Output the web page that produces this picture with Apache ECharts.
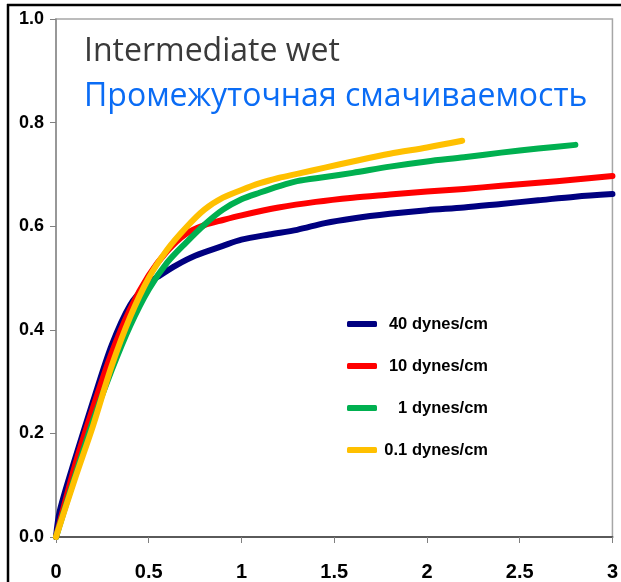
<!DOCTYPE html>
<html>
<head>
<meta charset="utf-8">
<script src="https://cdn.jsdelivr.net/npm/echarts@6/dist/echarts.min.js"></script>
<style>
  html, body { margin: 0; padding: 0; background: #fff; }
  #chart { width: 621px; height: 582px; }
</style>
</head>
<body>
<div id="chart"></div>
<script>
// Tick values for the two axes
const xTicks = [0, 0.5, 1, 1.5, 2, 2.5, 3];
const yTicks = [0, 0.2, 0.4, 0.6, 0.8, 1.0];

// Curve names (interfacial tension)
const seriesNames = ['40 dynes/cm', '10 dynes/cm', '1 dynes/cm', '0.1 dynes/cm'];
const seriesColors = ['#000080', '#ff0000', '#00b050', '#ffc000'];

// [x, y] points for each curve
const ift40 = [
  [0, 0], [0.02, 0.05], [0.1, 0.148], [0.2, 0.262], [0.3, 0.37], [0.4, 0.448],
  [0.5, 0.49], [0.56, 0.505], [0.65, 0.525], [0.75, 0.543], [0.9, 0.562],
  [1.0, 0.574], [1.15, 0.584], [1.3, 0.593], [1.45, 0.606], [1.6, 0.615],
  [1.8, 0.624], [2.0, 0.631], [2.2, 0.636], [2.4, 0.643], [2.6, 0.65],
  [2.8, 0.657], [3.0, 0.662]
];
const ift10 = [
  [0, 0], [0.1, 0.135], [0.2, 0.25], [0.3, 0.355], [0.4, 0.44], [0.5, 0.505],
  [0.6, 0.552], [0.7, 0.585], [0.8, 0.602], [0.9, 0.612], [1.0, 0.621],
  [1.2, 0.636], [1.4, 0.647], [1.6, 0.655], [1.8, 0.661], [2.0, 0.667],
  [2.2, 0.672], [2.4, 0.678], [2.6, 0.684], [2.8, 0.69], [3.0, 0.697]
];
const ift1 = [
  [0, 0], [0.1, 0.115], [0.2, 0.225], [0.3, 0.322], [0.4, 0.408], [0.5, 0.478],
  [0.6, 0.53], [0.7, 0.568], [0.8, 0.603], [0.9, 0.632], [1.0, 0.652],
  [1.1, 0.665], [1.2, 0.677], [1.3, 0.687], [1.45, 0.695], [1.6, 0.703],
  [1.8, 0.715], [2.0, 0.725], [2.2, 0.733], [2.4, 0.742], [2.6, 0.75],
  [2.8, 0.757]
];
const ift01 = [
  [0, 0], [0.1, 0.11], [0.2, 0.215], [0.3, 0.33], [0.4, 0.425], [0.5, 0.5],
  [0.6, 0.555], [0.7, 0.597], [0.8, 0.632], [0.9, 0.655], [1.0, 0.67],
  [1.1, 0.683], [1.2, 0.693], [1.3, 0.701], [1.45, 0.713], [1.6, 0.725],
  [1.8, 0.74], [2.0, 0.752], [2.19, 0.765]
];
const seriesData = [ift40, ift10, ift1, ift01];

// Caption lines
const captionLines = ['Intermediate wet', 'Промежуточная смачиваемость'];

const chart = echarts.init(document.getElementById('chart'), null, { renderer: 'canvas' });

const labelFont = "'Liberation Sans', Arial, sans-serif";
const captionFont = "32px 'Open Sans', 'Noto Sans', sans-serif";

const option = {
  animation: false,
  backgroundColor: '#ffffff',
  grid: {
    left: 56, right: 5, top: 19, bottom: 45,
    show: true,
    borderColor: '#a6a6a6',
    borderWidth: 1.5,
    backgroundColor: 'transparent'
  },
  xAxis: {
    type: 'value',
    min: xTicks[0],
    max: xTicks[xTicks.length - 1],
    interval: 0.5,
    axisLine: { show: true, lineStyle: { color: '#5a5a5a', width: 2 } },
    axisTick: { show: true, length: 6, lineStyle: { color: '#808080', width: 1 } },
    splitLine: { show: false },
    axisLabel: {
      margin: 25,
      color: '#000',
      fontFamily: labelFont,
      fontWeight: 'bold',
      fontSize: 20,
      formatter: v => String(v)
    }
  },
  yAxis: {
    type: 'value',
    min: yTicks[0],
    max: yTicks[yTicks.length - 1],
    interval: 0.2,
    axisLine: { show: true, lineStyle: { color: '#8c8c8c', width: 1.5 } },
    axisTick: { show: true, length: 6, lineStyle: { color: '#808080', width: 1 } },
    splitLine: { show: false },
    axisLabel: {
      margin: 12,
      color: '#000',
      fontFamily: labelFont,
      fontWeight: 'bold',
      fontSize: 18,
      formatter: v => v.toFixed(1)
    }
  },
  legend: {
    orient: 'vertical',
    left: 342,
    top: 309,
    itemWidth: 30,
    itemHeight: 6,
    itemGap: 22,
    icon: 'roundRect',
    data: seriesNames,
    textStyle: {
      color: '#000',
      fontFamily: labelFont,
      fontWeight: 'bold',
      fontSize: 16.5,
      lineHeight: 20,
      rich: {
        t: { width: 106, align: 'right', fontFamily: labelFont, fontWeight: 'bold', fontSize: 16.5, color: '#000' }
      }
    },
    // right-align labels within a fixed-width box
    formatter: name => '{t|' + name + '}',
    selectedMode: false
  },
  graphic: [
    // outer frame strokes along the top and left edge
    { type: 'line', shape: { x1: 7, y1: 5, x2: 621, y2: 5 }, style: { stroke: '#000', lineWidth: 2.5 }, z: 10 },
    { type: 'line', shape: { x1: 8, y1: 4, x2: 8, y2: 582 }, style: { stroke: '#000', lineWidth: 2.5 }, z: 10 },
    {
      type: 'text', left: 84, top: 36, z: 10,
      style: { text: captionLines[0], fill: '#3a3a3a', font: captionFont }
    },
    {
      type: 'text', left: 84, top: 81, z: 10,
      style: { text: captionLines[1], fill: '#0a6cf5', font: captionFont }
    }
  ],
  series: seriesNames.map((name, i) => ({
    name: name,
    type: 'line',
    data: seriesData[i],
    showSymbol: false,
    symbol: 'none',
    smooth: 0.3,
    color: seriesColors[i],
    lineStyle: { color: seriesColors[i], width: 6, cap: 'round', join: 'round' },
    z: 2 + i
  }))
};

chart.setOption(option);
</script>
</body>
</html>
